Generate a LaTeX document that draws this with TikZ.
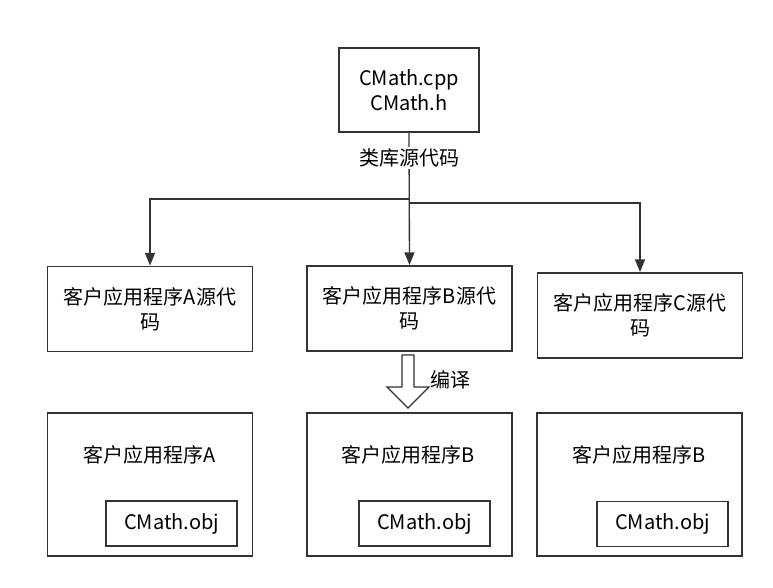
\documentclass[tikz,border=0pt]{standalone}
\usepackage{fontspec}
\setmainfont{Noto Sans CJK SC}
\usetikzlibrary{arrows.meta,positioning,calc}

\begin{document}
\begin{tikzpicture}[x=0.75pt,y=-0.75pt,>={Triangle[length=9.5pt,width=7.5pt]},
 font=\fontsize{15}{19}\selectfont,
 blk/.style={draw=black!80,line width=1.4pt,align=center,inner sep=0pt,minimum width=205*0.75pt},
 src/.style={blk,minimum height=85*0.75pt},
 app/.style={blk,minimum height=143*0.75pt},
 obj/.style={blk,minimum width=131*0.75pt,minimum height=45*0.75pt},
 nm/.style={inner sep=1pt},
 con/.style={draw=black!80,line width=1pt}]
\useasboundingbox (0,0) rectangle (773,587);
\node[blk,minimum width=140*0.75pt,minimum height=84*0.75pt] (top) at (409,90) {CMath.cpp\\CMath.h};
\node[src] (srcA) at (150,309) {客户应用程序A源代\\码};
\node[src] (srcB) at (409.5,308.5) {客户应用程序B源代\\码};
\node[src] (srcC) at (640,315.5) {客户应用程序C源代\\码};
\node[app] (appA) at (150,484.5) {};
\node[app] (appB) at (409.5,484.5) {};
\node[app] (appC) at (639.5,484.5) {};
\node[nm] (tA) at (150,455) {客户应用程序A};
\node[nm] (tB) at (408,455) {客户应用程序B};
\node[nm] (tC) at (639,455) {客户应用程序B};
\node[obj] (objA) at (171.5,523.5) {CMath.obj};
\node[obj] (objB) at (424.5,523.5) {CMath.obj};
\node[obj] (objC) at (662.5,524) {CMath.obj};
\coordinate (jl) at (409,199);
\coordinate (jr) at (409,203);
\draw[con,->] (top.south) -- (srcB.north);
\draw[con,->] (jl) -| (srcA.north);
\draw[con,->] (jr) -| (srcC.north);
\node[nm,fill=white] (lib) at (409,158) {类库源代码};
% compile arrow
\draw[draw=black!80,line width=1pt,line join=miter] (402,355) -- (414,355) -- (414,387) -- (429,387)
 -- (408,408) -- (387,387) -- (402,387) -- cycle;
\node[nm] (cmp) at (450,380) {编译};
\end{tikzpicture}
\end{document}
